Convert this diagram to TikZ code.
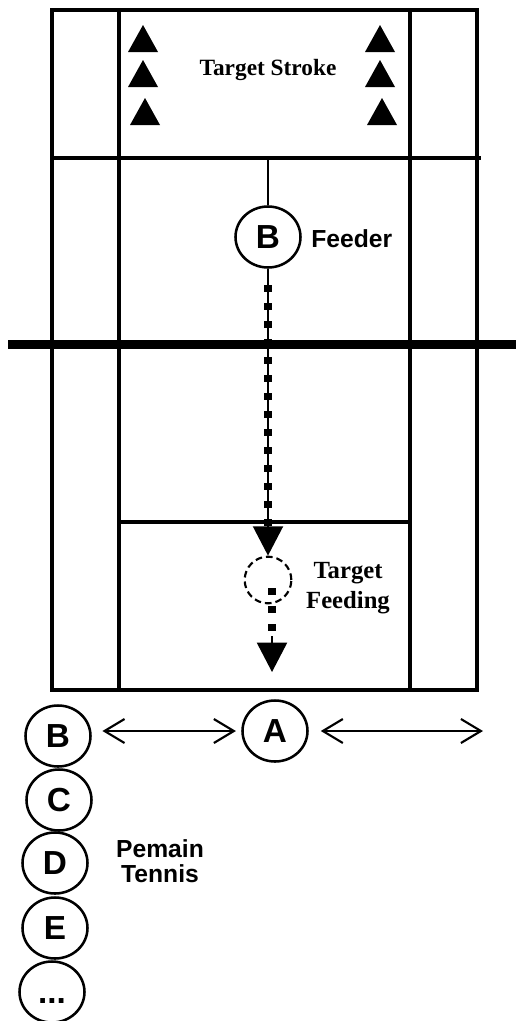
\documentclass[tikz,border=0pt]{standalone}
\usepackage{fontspec}
\setmainfont{Liberation Serif}
\newfontfamily\arialf{Liberation Sans}
\usetikzlibrary{arrows.meta,shapes.geometric}
\begin{document}
\begin{tikzpicture}[x=0.75pt,y=-0.75pt,
  court/.style={line width=2.5pt},
  netline/.style={line width=6.75pt},
  player/.style={ellipse,draw,line width=1.9pt,minimum width=48.75pt,minimum height=45.75pt,inner sep=0pt,
    font=\arialf\bfseries\fontsize{25}{25}\selectfont,text height=17.9pt,text depth=0pt},
  lbl/.style={font=\arialf\bfseries\fontsize{18.5}{19}\selectfont,inner sep=0pt,align=center},
  slbl/.style={font=\bfseries\fontsize{17.5}{21.5}\selectfont,inner sep=0pt,align=center},
  target/.style={circle,draw,dashed,dash pattern=on 5pt off 3pt,line width=1.6pt,minimum size=35pt,inner sep=0pt},
  sqdots/.style={line width=6pt,dash pattern=on 5.25pt off 8.25pt},
  tipline/.style={line width=1.6pt,-{Triangle[length=22pt,width=22.5pt]}},
  dbl/.style={line width=1.6pt,{Straight Barb[length=15pt,width=18pt,line width=1.6pt]}-{Straight Barb[length=15pt,width=18pt,line width=1.6pt]}},
  cone/.pic={\fill (-15,13.5) -- (0,-13.5) -- (15,13.5) -- cycle;}
]
\useasboundingbox (0,0) rectangle (516,1021);

% court
\draw[court] (52,10) rectangle (477,690);
\draw[court] (119,10) -- (119,690);
\draw[court] (410,10) -- (410,690);
\draw[court] (52,158) -- (481,158);
\draw[court] (119,522) -- (410,522);
\draw[netline] (8,344) -- (516,344);

% targets (cones)
\pic at (143,38.5) {cone};
\pic at (143,73.5) {cone};
\pic at (145,111.5) {cone};
\pic at (380,38.5) {cone};
\pic at (380,73.5) {cone};
\pic at (382,111.5) {cone};
\node[slbl] (ts) at (268,70) {Target Stroke};

% feeder
\coordinate (cs) at (268,158);
\node[player] (feeder) at (268,237) {B};
\node[lbl,anchor=west] (fl) at (311,239) {Feeder};
\draw[court,line width=2pt] (cs) -- (feeder);

% target feeding
\node[target] (tf) at (268,580) {};
\node[slbl,font=\bfseries\fontsize{18.5}{22}\selectfont] (tfl) at (348,588) {Target\\Feeding};

% feed path
\draw[tipline] (feeder) -- (tf);
\coordinate (d1) at (268,285);
\coordinate (d2) at (268,528);
\draw[sqdots] (d1) -- (d2);
\coordinate (e1) at (272,588);
\coordinate (e2) at (272,636);
\coordinate (e3) at (272,672);
\draw[sqdots] (e1) -- (e2);
\draw[tipline] (e2) -- (e3);

% players
\node[player] (A) at (275,731) {A};
\node[player] (pB) at (58,736) {B};
\node[player] (pC) at (59,800) {C};
\node[player] (pD) at (55,863) {D};
\node[player] (pE) at (55,928) {E};
\node[player] (pX) at (52,992) {...};
\node[lbl] (pt) at (160,861) {Pemain\\Tennis};

% movement arrows
\coordinate (rend) at (483,731);
\draw[dbl] ([xshift=8pt]pB.east |- A) -- ([xshift=-4pt]A.west);
\draw[dbl] ([xshift=9pt]A.east) -- (rend);
\end{tikzpicture}
\end{document}
